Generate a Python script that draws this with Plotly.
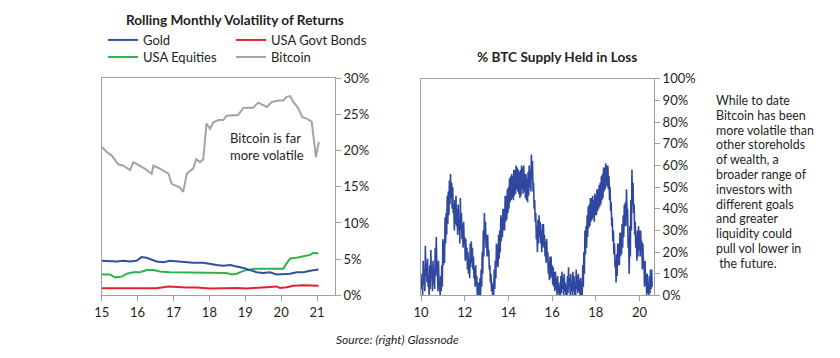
import plotly.graph_objects as go

# ---------------- Left chart data (rolling monthly volatility, %) ----------------
btc_x = [15.0, 15.14, 15.28, 15.46, 15.6, 15.74, 15.79, 15.88, 16.07, 16.2, 16.39, 16.44, 16.62,
         16.86, 16.95, 17.04, 17.18, 17.27, 17.37, 17.46, 17.55, 17.63, 17.74, 17.83, 17.92,
         18.02, 18.11, 18.25, 18.39, 18.48, 18.67, 18.8, 18.95, 19.08, 19.22, 19.36, 19.5,
         19.6, 19.74, 19.92, 20.06, 20.15, 20.25, 20.34, 20.48, 20.59, 20.71, 20.85, 20.97, 21.05]
btc_vol = [20.5, 19.8, 19.3, 18.1, 17.9, 17.5, 17.3, 18.4, 17.9, 17.5, 16.8, 17.9, 17.5,
           16.8, 15.4, 15.2, 14.9, 14.3, 16.8, 17.2, 17.5, 18.8, 18.4, 18.8, 23.7,
           23.0, 23.9, 24.2, 24.2, 24.8, 24.8, 24.9, 25.9, 25.9, 25.9, 26.6, 26.3,
           26.0, 26.7, 26.9, 26.9, 27.4, 27.5, 26.7, 25.8, 24.6, 24.4, 24.0, 19.1, 21.2]

gold_x = [15.0, 15.42, 15.6, 15.79, 15.97, 16.11, 16.25, 16.39, 16.53, 16.72, 16.9, 17.14, 17.37,
          17.55, 17.83, 18.02, 18.2, 18.39, 18.58, 18.76, 18.95, 19.13, 19.32, 19.5, 19.69,
          19.87, 20.06, 20.25, 20.43, 20.62, 20.81, 21.04]
gold_vol = [4.8, 4.7, 4.8, 4.7, 4.8, 5.3, 5.2, 5.0, 4.7, 4.6, 4.8, 4.7, 4.6,
            4.5, 4.5, 4.3, 4.2, 4.1, 4.2, 4.0, 3.8, 3.5, 3.2, 3.1, 3.2,
            2.9, 2.9, 3.0, 3.2, 3.2, 3.4, 3.6]

eq_x = [15.0, 15.23, 15.37, 15.56, 15.7, 15.88, 16.07, 16.25, 16.44, 16.62, 16.9, 17.27, 17.65,
        18.02, 18.3, 18.48, 18.62, 18.76, 18.95, 19.13, 19.32, 19.5, 19.87, 20.06, 20.15,
        20.25, 20.43, 20.62, 20.81, 20.9, 21.04]
eq_vol = [2.9, 2.9, 2.5, 2.6, 3.0, 3.2, 3.2, 3.5, 3.5, 3.3, 3.2, 3.2, 3.1,
          3.1, 3.2, 3.1, 2.9, 3.0, 3.4, 3.6, 3.7, 3.7, 3.7, 3.7, 4.4,
          5.1, 5.2, 5.4, 5.6, 5.9, 5.8]

bond_x = [15.0, 15.6, 16.53, 16.86, 17.09, 17.37, 17.65, 18.02, 18.39, 18.76, 19.04, 19.32,
          19.6, 19.87, 19.97, 20.15, 20.34, 20.62, 21.04]
bond_vol = [1.0, 1.0, 1.0, 1.25, 1.15, 1.1, 1.1, 0.97, 1.0, 1.05, 0.97, 1.1,
            1.15, 1.25, 1.05, 1.15, 1.35, 1.4, 1.35]

# ---------------- Right chart data (% BTC supply held in loss) ----------------
# read as alternating highs / lows of the noisy daily series, every 0.025 year
loss_start = 10.0
loss_step = 0.025
loss_pct = [
    # 2010
    10, 3, 6, 0, 16, 5, 12, 2, 23, 9, 15, 6, 17, 4, 6, 0, 14, 3, 21, 8,
    12, 2, 16, 5, 12, 3, 22, 9, 27, 12, 14, 2, 16, 4, 5, 0, 9, 2, 14, 4,
    # 2011
    26, 14, 25, 15, 36, 24, 38, 28, 46, 33, 48, 37, 53, 42, 56, 45, 52, 40, 50, 38,
    42, 30, 44, 33, 46, 32, 40, 28, 42, 30, 35, 24, 45, 30, 38, 26, 33, 22, 34, 24,
    # 2012
    27, 16, 26, 17, 22, 12, 20, 10, 17, 8, 24, 13, 25, 15, 22, 12, 18, 8, 13, 4,
    14, 5, 9, 0, 6, 0, 6, 0, 8, 0, 12, 4, 20, 10, 30, 18, 38, 26, 34, 22,
    # 2013
    28, 18, 28, 18, 21, 12, 14, 6, 10, 2, 6, 0, 4, 0, 12, 3, 16, 8, 24, 14,
    23, 13, 28, 17, 30, 20, 37, 25, 36, 27, 40, 30, 40, 30, 46, 34, 46, 35, 49, 38,
    # 2014
    50, 40, 54, 43, 55, 44, 56, 45, 55, 44, 58, 46, 58, 47, 60, 49, 59, 48, 58, 47,
    57, 45, 58, 46, 60, 49, 59, 47, 60, 48, 56, 45, 56, 44, 54, 43, 57, 46, 60, 50,
    # 2015
    58, 48, 65, 54, 62, 48, 52, 40, 44, 34, 38, 26, 32, 20, 35, 24, 37, 27, 34, 24,
    30, 20, 33, 22, 33, 23, 28, 18, 25, 15, 26, 16, 20, 10, 16, 7, 18, 8, 18, 9,
    # 2016
    14, 5, 13, 4, 11, 2, 11, 3, 8, 0, 9, 1, 6, 0, 4, 0, 9, 1, 11, 3,
    8, 0, 10, 2, 6, 0, 4, 0, 9, 1, 13, 4, 8, 0, 10, 2, 6, 0, 11, 2,
    # 2017
    9, 0, 6, 0, 12, 3, 9, 1, 10, 2, 7, 0, 8, 0, 5, 0, 14, 4, 20, 10,
    30, 19, 32, 22, 37, 27, 41, 31, 42, 32, 45, 34, 45, 35, 46, 36, 44, 34, 47, 37,
    # 2018
    46, 37, 49, 39, 49, 40, 51, 41, 52, 42, 55, 44, 56, 45, 59, 48, 59, 49, 61, 51,
    60, 50, 60, 49, 55, 44, 50, 39, 43, 32, 36, 25, 30, 19, 24, 13, 16, 6, 19, 9,
    # 2019
    24, 14, 24, 14, 29, 18, 29, 19, 33, 22, 37, 27, 42, 32, 43, 32, 49, 38, 40, 22,
    24, 10, 32, 18, 44, 30, 58, 42, 52, 38, 42, 28, 34, 22, 28, 16, 30, 18, 32, 21,
    # 2020
    30, 18, 30, 20, 25, 12, 24, 13, 16, 4, 16, 5, 10, 0, 10, 1, 6, 0, 9, 1,
    12, 3, 12, 4,
]
loss_x = [loss_start + i * loss_step for i in range(len(loss_pct))]

left_xticks = [15, 16, 17, 18, 19, 20, 21]
right_xticks = [10, 12, 14, 16, 18, 20]

note_lines = ["While to date", "Bitcoin has been", "more volatile than", "other storeholds",
              "of wealth, a", "broader range of", "investors with", "different goals",
              "and greater", "liquidity could", "pull vol lower in", "&nbsp;the future."]

FONT = "Lato"
TXT = "#231f20"
AX = "#a0a0a0"

fig = go.Figure()
fig.add_trace(go.Scatter(x=btc_x, y=btc_vol, name="Bitcoin", mode="lines",
                         line=dict(color="#a3a3a3", width=2), legend="legend4",
                         xaxis="x", yaxis="y"))
fig.add_trace(go.Scatter(x=bond_x, y=bond_vol, name="USA Govt Bonds", mode="lines",
                         line=dict(color="#e3232c", width=2), legend="legend2",
                         xaxis="x", yaxis="y"))
fig.add_trace(go.Scatter(x=eq_x, y=eq_vol, name="USA Equities", mode="lines",
                         line=dict(color="#2eb24d", width=2), legend="legend3",
                         xaxis="x", yaxis="y"))
fig.add_trace(go.Scatter(x=gold_x, y=gold_vol, name="Gold", mode="lines",
                         line=dict(color="#3150a2", width=2), legend="legend",
                         xaxis="x", yaxis="y"))
fig.add_trace(go.Scatter(x=loss_x, y=loss_pct, name="% BTC Supply Held in Loss", mode="lines",
                         line=dict(color="#2f479e", width=1.6), showlegend=False,
                         xaxis="x2", yaxis="y2"))

axis_common = dict(showgrid=False, zeroline=False, showline=True, linecolor=AX, linewidth=1,
                   mirror=True, ticks="outside", ticklen=5, tickcolor=AX, automargin=False,
                   tickfont=dict(family=FONT, size=13, color=TXT))


def legend_box(xpx, ypx):
    return dict(x=xpx / 840, y=1 - ypx / 358, xanchor="left", yanchor="middle",
                font=dict(family=FONT, size=13, color=TXT), bgcolor="rgba(0,0,0,0)",
                tracegroupgap=0, itemwidth=30)


fig.update_layout(
    width=840, height=358,
    margin=dict(l=0, r=0, t=0, b=0, autoexpand=False),
    paper_bgcolor="white", plot_bgcolor="white",
    font=dict(family=FONT, color=TXT),
    xaxis=dict(domain=[0.1211, 0.3988], range=[15, 21.5], tickvals=left_xticks,
               anchor="y", **axis_common),
    yaxis=dict(domain=[0.1746, 0.7821], range=[0, 30], dtick=5, ticksuffix="%",
               side="right", anchor="x", **axis_common),
    xaxis2=dict(domain=[0.5012, 0.7786], range=[10, 20.66], tickvals=right_xticks,
                anchor="y2", **axis_common),
    yaxis2=dict(domain=[0.1746, 0.7800], range=[0, 100], dtick=10, ticksuffix="%",
                side="right", anchor="x2", **axis_common),
    legend=legend_box(103, 40),
    legend2=legend_box(231, 40),
    legend3=legend_box(103, 57),
    legend4=legend_box(231, 57),
    showlegend=True,
)

fig.add_annotation(text="<b>Rolling Monthly Volatility of Returns</b>", x=235 / 840, y=1 - 20 / 358,
                   xref="paper", yref="paper", showarrow=False, xanchor="center", yanchor="middle",
                   font=dict(family=FONT, size=13.6, color=TXT))
fig.add_annotation(text="<b>% BTC Supply Held in Loss</b>", x=557 / 840, y=1 - 57 / 358,
                   xref="paper", yref="paper", showarrow=False, xanchor="center", yanchor="middle",
                   font=dict(family=FONT, size=13.6, color=TXT))
fig.add_annotation(text="Bitcoin is far<br>more volatile", x=228 / 840, y=1 - 146 / 358,
                   xref="paper", yref="paper", showarrow=False, xanchor="left", yanchor="middle",
                   align="left", font=dict(family=FONT, size=13, color=TXT))
for i, line in enumerate(note_lines):
    fig.add_annotation(text=line, x=714 / 840, y=1 - (100.5 + i * 14.8) / 358,
                       xref="paper", yref="paper", showarrow=False,
                       xanchor="left", yanchor="middle", align="left",
                       font=dict(family=FONT, size=12.4, color=TXT))
fig.add_annotation(text="<i>Source: (right) Glassnode</i>", x=397 / 840, y=1 - 339 / 358,
                   xref="paper", yref="paper", showarrow=False, xanchor="center", yanchor="middle",
                   font=dict(family=FONT, size=12, color=TXT))

fig.write_html("out.html", config={"displayModeBar": False},
               post_script="document.body.style.margin='0px';")
